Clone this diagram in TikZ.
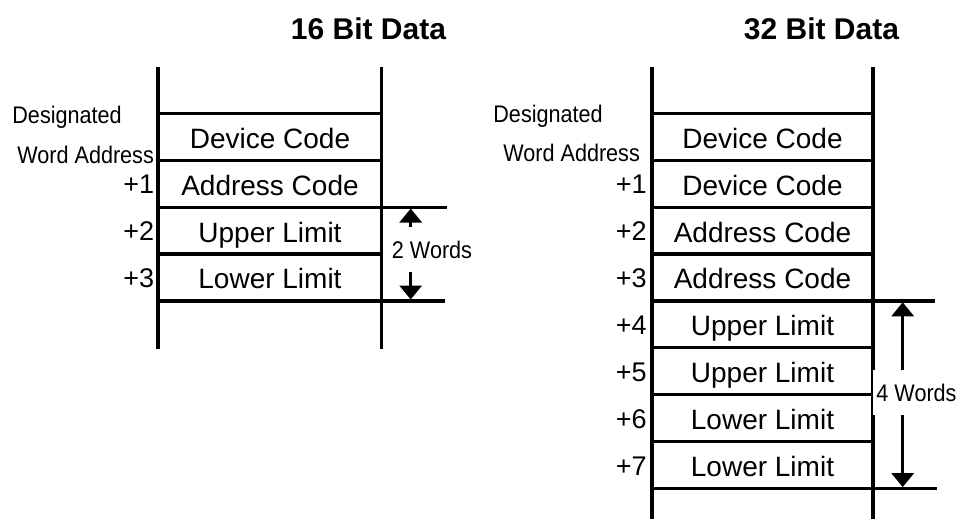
\documentclass[tikz,border=0pt]{standalone}
\usepackage{fontspec}
\setmainfont{Liberation Sans}
\newfontfamily\narrowfont[FakeStretch=0.9]{Liberation Sans}
\usetikzlibrary{arrows.meta,positioning}

\tikzset{
    rail/.style={line width=1.6pt},
    title/.style={font=\bfseries\fontsize{15}{18}\selectfont, anchor=base},
    cell/.style={font=\fontsize{14}{16}\selectfont, anchor=base},
    offs/.style={font=\fontsize{13.5}{16}\selectfont, anchor=base east, inner sep=0pt},
    tag/.style={font=\narrowfont\fontsize{12}{14}\selectfont, anchor=base west, inner sep=0pt},
    note/.style={font=\narrowfont\fontsize{12}{14}\selectfont, fill=white, inner xsep=1.5pt, minimum height=22.5pt},
    span/.style={line width=1.6pt, {Triangle[width=11pt,length=7pt]}-{Triangle[width=11pt,length=7pt]}},
}

\begin{document}
\begin{tikzpicture}[x=0.5pt, y=-0.5pt]
    \useasboundingbox (0,0) rectangle (964,519);

        % 16 bit panel
        \node[title] (t16) at (368.5,40) {16 Bit Data};

        \draw[rail] (158,67) -- (158,349);
        \draw[rail] (381.7,67) -- (381.7,349);
        \foreach \k in {0,...,4}{
            \draw[rail] (158,{113.3+46.9*\k}) -- (381.7,{113.3+46.9*\k});
        }
        \foreach \txt [count=\i from 0] in {Device Code, Address Code, Upper Limit, Lower Limit}{
            \node[cell] (l\i) at (270,{136.75+46.9*\i+11.5}) {\txt};
        }
        \foreach \i in {1,2,3}{
            \node[offs] (lo\i) at (154.5,{136.75+46.9*\i+10}) {+\i};
        }
        \node[tag] (ld) at (12,124) {Designated};
        \node[tag] (lw) at (17,163) {Word Address};

        \coordinate (lb1) at (381.7,207.1);
        \coordinate (lb2) at (381.7,300.9);
        \coordinate (le1) at (447,207.1);
        \coordinate (le2) at (445,300.9);
        \draw[rail] (lb1) -- (le1);
        \draw[rail] (lb2) -- (le2);

        \coordinate (la1) at (410.7,208.5);
        \coordinate (la2) at (410.7,299.5);
        \draw[span] (la1) -- (la2);
        \node[note] (w2) at (432,249.5) {2 Words};

        % 32 bit panel
        \node[title] (t32) at (821.5,40) {32 Bit Data};

        \draw[rail] (652,67) -- (652,519);
        \draw[rail] (873,67) -- (873,519);
        \foreach \k in {0,...,8}{
            \draw[rail] (652,{113.3+46.9*\k}) -- (873,{113.3+46.9*\k});
        }
        \foreach \txt [count=\i from 0] in {Device Code, Device Code, Address Code, Address Code,
                                            Upper Limit, Upper Limit, Lower Limit, Lower Limit}{
            \node[cell] (r\i) at (762.5,{136.75+46.9*\i+11.5}) {\txt};
        }
        \foreach \i in {1,...,7}{
            \node[offs] (ro\i) at (647,{136.75+46.9*\i+10}) {+\i};
        }
        \node[tag] (rd) at (493,123) {Designated};
        \node[tag] (rw) at (503,162) {Word Address};

        \coordinate (rb1) at (873,300.9);
        \coordinate (rb2) at (873,488.5);
        \coordinate (re1) at (935,300.9);
        \coordinate (re2) at (937,488.5);
        \draw[rail] (rb1) -- (re1);
        \draw[rail] (rb2) -- (re2);

        \coordinate (ra1) at (902.7,302.3);
        \coordinate (ra2) at (902.7,487.1);
        \draw[span] (ra1) -- (ra2);
        \node[note] (w4) at (916.5,392.5) {4 Words};

    \end{tikzpicture}
\end{document}
